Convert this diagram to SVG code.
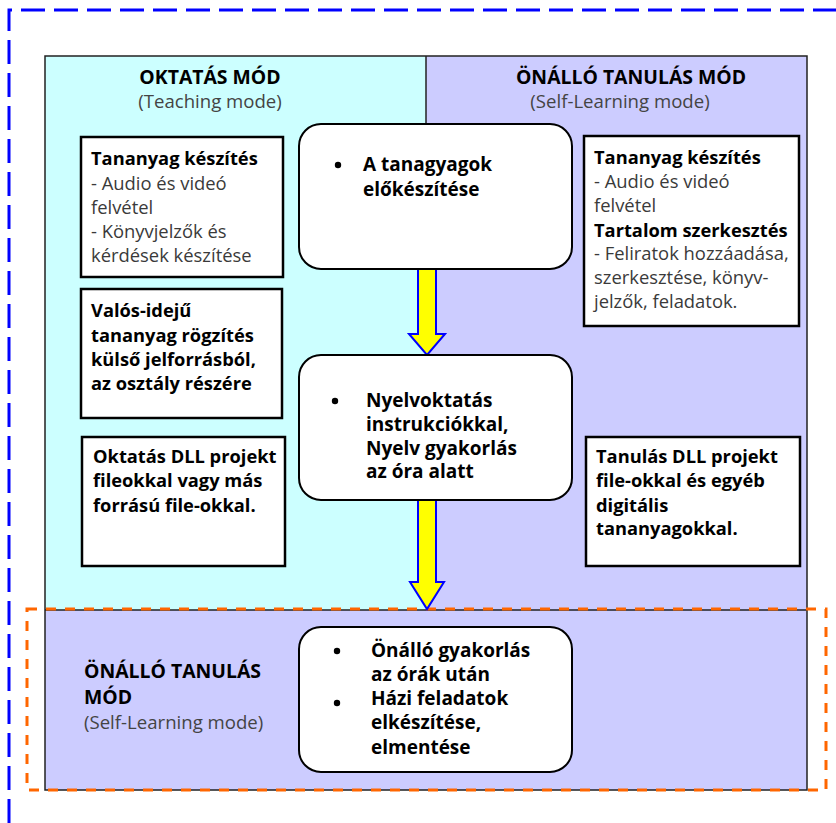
<svg xmlns="http://www.w3.org/2000/svg" width="836" height="823" viewBox="0 0 836 823">
<style>
  text { font-family: "Open Sans", "Noto Sans", "Liberation Sans", sans-serif; font-size: 18.3px; }
  .b { font-weight: bold; fill: #000; }
  .r { fill: #3a3a3a; font-weight: normal; font-size: 18.4px; }
  .g { fill: #444; font-weight: normal; font-size: 18.6px; }
  .h { font-size: 19.4px; }
  .s { font-size: 19px; }
  .box { fill: #fff; stroke: #000; stroke-width: 2.5; }
  .rbox { fill: #fff; stroke: #000; stroke-width: 2; }
  .arrow { fill: #ffff00; stroke: #0000ff; stroke-width: 2; stroke-linejoin: miter; }
</style>
<rect width="836" height="823" fill="#fff"/>
<g id="background">
  <rect x="45" y="56" width="381" height="554" fill="#ccffff"/>
  <rect x="426" y="56" width="381" height="554" fill="#ccccff"/>
  <rect x="45" y="610" width="762" height="180" fill="#ccccff"/>
  <rect x="45" y="56" width="762" height="734" fill="none" stroke="#222" stroke-width="1.5"/>
  <line x1="426" y1="56" x2="426" y2="124" stroke="#222" stroke-width="1.5"/>
  <line x1="45" y1="610" x2="807" y2="610" stroke="#222" stroke-width="1.5"/>
</g>
<g id="frame-blue">
  <path d="M9,823 V10 H836" fill="none" stroke="#0000ff" stroke-width="3" stroke-dasharray="24 9"/>
</g>
<g id="frame-orange">
  <rect x="27" y="609" width="799" height="181" fill="none" stroke="#ff6600" stroke-width="3" stroke-dasharray="10 9"/>
</g>
<g id="title-teaching">
  <text x="210" y="84" text-anchor="middle"><tspan class="b h">OKTATÁS MÓD</tspan><tspan class="g" x="210" dy="24">(Teaching mode)</tspan></text>
</g>
<g id="title-self">
  <text x="631" y="84" text-anchor="middle"><tspan class="b h">ÖNÁLLÓ TANULÁS MÓD</tspan><tspan class="g" x="620" dy="24">(Self-Learning mode)</tspan></text>
</g>
<g id="connectors">
  <polygon class="arrow" points="418,269 436,269 436,334 445,334 427,355 409,334 418,334"/>
  <polygon class="arrow" points="418,500 436,500 436,582 444,582 427,609 410,582 418,582"/>
</g>
<g id="step1">
  <rect class="rbox" x="299" y="124" width="273" height="145" rx="22"/>
  <circle cx="338" cy="165" r="3.2" fill="#000"/>
  <text class="b s" x="363" y="171">A tanagyagok<tspan x="363" dy="25">előkészítése</tspan></text>
</g>
<g id="step2">
  <rect class="rbox" x="299" y="355" width="273" height="145" rx="22"/>
  <circle cx="335" cy="401" r="3.2" fill="#000"/>
  <text class="b s" x="366" y="407">Nyelvoktatás<tspan x="366" dy="24">instrukciókkal,</tspan><tspan x="366" dy="23.5">Nyelv gyakorlás</tspan><tspan x="366" dy="23.5">az óra alatt</tspan></text>
</g>
<g id="step3">
  <rect class="rbox" x="299" y="627" width="273" height="145" rx="22"/>
  <circle cx="337" cy="651" r="3.2" fill="#000"/>
  <circle cx="337" cy="703" r="3.2" fill="#000"/>
  <text class="b s" x="371" y="657">Önálló gyakorlás<tspan x="371" dy="24">az órák után</tspan></text>
  <text class="b s" x="371" y="705">Házi feladatok<tspan x="371" dy="24">elkészítése,</tspan><tspan x="371" dy="25">elmentése</tspan></text>
</g>
<g id="title-bottom">
  <text x="84" y="678"><tspan class="b h">ÖNÁLLÓ TANULÁS</tspan><tspan class="b h" x="84" dy="26">MÓD</tspan><tspan class="g" x="84" dy="24.5">(Self-Learning mode)</tspan></text>
</g>
<g id="teach-material">
  <rect class="box" x="81" y="137" width="202" height="140"/>
  <text x="91" y="165"><tspan class="b">Tananyag készítés</tspan><tspan class="r" x="91" dy="25">- Audio és videó</tspan><tspan class="r" x="91" dy="24">felvétel</tspan><tspan class="r" x="91" dy="24">- Könyvjelzők és</tspan><tspan class="r" x="91" dy="24">kérdések készítése</tspan></text>
</g>
<g id="teach-realtime">
  <rect class="box" x="81" y="289" width="201" height="129"/>
  <text class="b" x="91" y="317">Valós-idejű<tspan x="91" dy="25">tananyag rögzítés</tspan><tspan x="91" dy="24">külső jelforrásból,</tspan><tspan x="91" dy="24">az osztály részére</tspan></text>
</g>
<g id="teach-dll">
  <rect class="box" x="82" y="437" width="203" height="129"/>
  <text class="b" x="93" y="463">Oktatás DLL projekt<tspan x="93" dy="24">fileokkal vagy más</tspan><tspan x="93" dy="25">forrású file-okkal.</tspan></text>
</g>
<g id="self-material">
  <rect class="box" x="584" y="136" width="215" height="190"/>
  <text x="594" y="164"><tspan class="b">Tananyag készítés</tspan><tspan class="r" x="594" dy="24">- Audio és videó</tspan><tspan class="r" x="594" dy="24">felvétel</tspan><tspan class="b" x="594" dy="25">Tartalom szerkesztés</tspan><tspan class="r" x="594" dy="23">- Feliratok hozzáadása,</tspan><tspan class="r" x="594" dy="24">szerkesztése, könyv-</tspan><tspan class="r" x="594" dy="24">jelzők, feladatok.</tspan></text>
</g>
<g id="self-dll">
  <rect class="box" x="586" y="437" width="214" height="129"/>
  <text class="b" x="596" y="463">Tanulás DLL projekt<tspan x="596" dy="24">file-okkal és egyéb</tspan><tspan x="596" dy="25">digitális</tspan><tspan x="596" dy="23">tananyagokkal.</tspan></text>
</g>
</svg>
